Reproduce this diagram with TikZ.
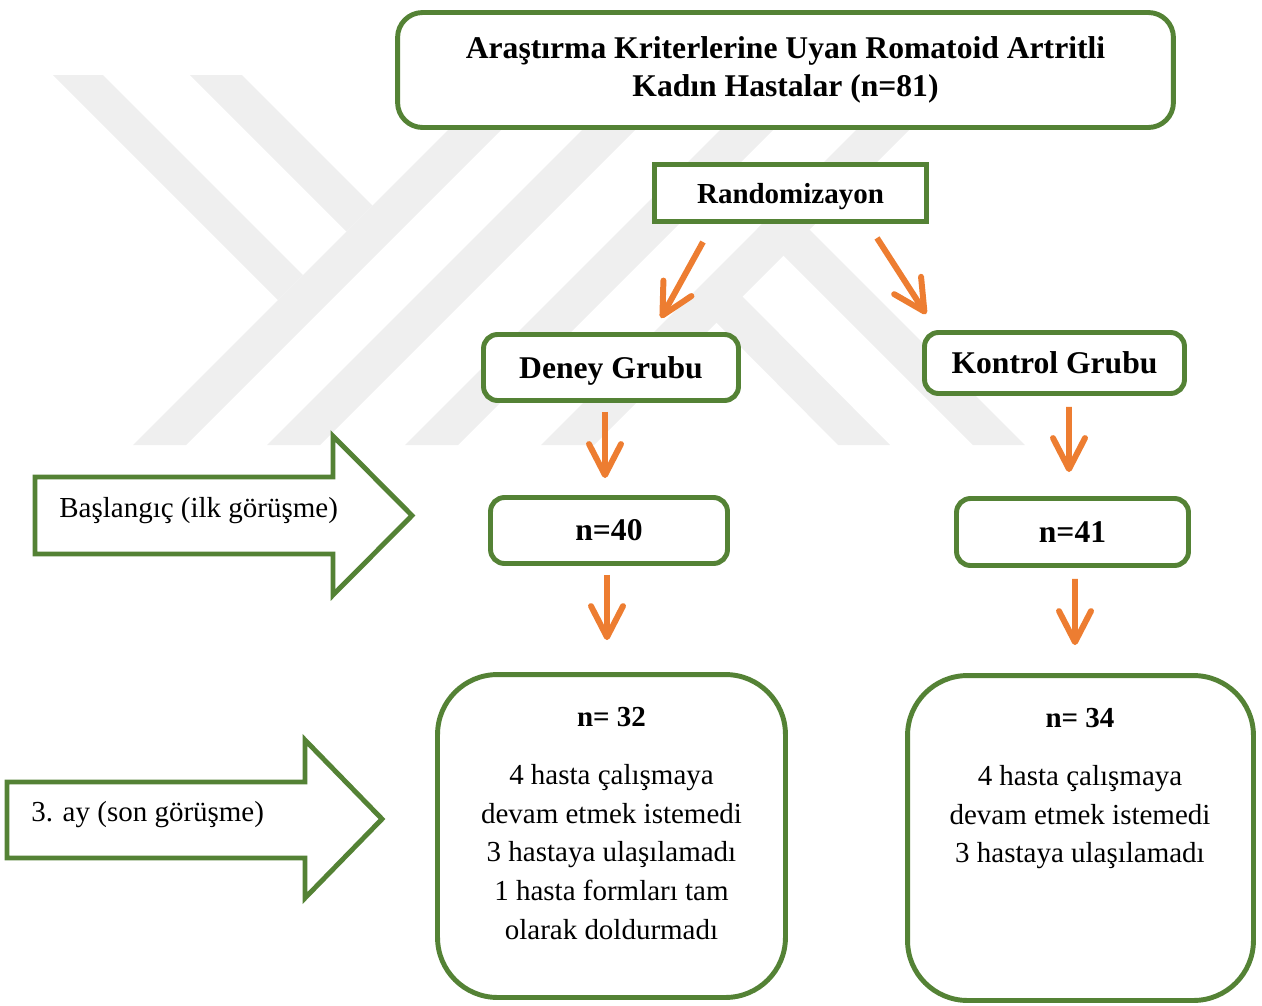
\documentclass[tikz,border=0pt]{standalone}
\usepackage{fontspec}
\setmainfont{Liberation Serif}
\usetikzlibrary{arrows.meta}

\definecolor{yesil}{RGB}{84,130,53}
\definecolor{turuncu}{RGB}{237,125,49}
\definecolor{filigran}{RGB}{239,239,239}

\newcommand{\baslikfont}{\fontsize{18}{22}\selectfont\bfseries}
\newcommand{\ortafont}{\fontsize{16.5}{20}\selectfont\bfseries}
\newcommand{\metinfont}{\fontsize{16.5}{22}\selectfont}

\begin{document}
\begin{tikzpicture}[x=0.02cm, y=-0.02cm,
	kutu/.style={draw=yesil, line width=2.8pt, fill=white, align=center, inner sep=0pt},
	blok/.style={draw=yesil, line width=2.8pt, fill=white},
	ok/.style={draw=turuncu, line width=3.4pt,
		-{Straight Barb[length=0.62cm, width=0.64cm, line cap=round, line join=round]}},
	yazi/.style={align=center, inner sep=0pt, font=\metinfont}]

	\useasboundingbox (0,0) rectangle (1262,1005);

	% watermark
	\begin{scope}
		\clip (0,75) rectangle (1262,445);
		\foreach \a in {133,267,405,541}
			\fill [filigran] (\a,445) -- (\a+53,445) -- (\a+423,75) -- (\a+370,75) -- cycle;
		\fill [filigran] (53,75) -- (103,75) -- (303,275) -- (278,300) -- cycle;
		\fill [filigran] (190,75) -- (242,75) -- (372.5,205.5) -- (346.5,231.5) -- cycle;
		\fill [filigran] (716,322) -- (742,296) -- (890,445) -- (838,445) -- cycle;
		\fill [filigran] (757,229) -- (783,203) -- (1025,445) -- (973,445) -- cycle;
	\end{scope}

	\node [kutu, rounded corners=0.5cm, minimum width=15.52cm, minimum height=2.3cm, font=\baslikfont] (baslik) at (785.5,70)
		{Araştırma Kriterlerine Uyan Romatoid Artritli\\Kadın Hastalar (n=81)};
	\node [kutu, text depth=0pt, minimum width=5.44cm, minimum height=1.14cm, font=\ortafont] (rand) at (790.5,193) {Randomizayon};

	\node [kutu, text depth=0pt, rounded corners=0.28cm, minimum width=5.1cm, minimum height=1.32cm, font=\baslikfont] (deney) at (611,367.5) {Deney Grubu};
	\node [kutu, rounded corners=0.28cm, minimum width=5.2cm, minimum height=1.22cm, font=\baslikfont] (kontrol) at (1054.5,363) {Kontrol Grubu};

	\node [kutu, rounded corners=0.28cm, minimum width=4.74cm, minimum height=1.32cm, font=\baslikfont] (deneyn) at (609,530.5) {n=40};
	\node [kutu, rounded corners=0.28cm, minimum width=4.64cm, minimum height=1.34cm, font=\baslikfont] (kontroln) at (1072.5,532) {n=41};

	\node [kutu, rounded corners=1.2cm, minimum width=6.96cm, minimum height=6.46cm] (deneyson) at (611.5,836) {};
	\node [kutu, rounded corners=1.2cm, minimum width=6.92cm, minimum height=6.5cm] (kontrolson) at (1080.5,838) {};
	\node [yazi, anchor=north] (deneysonyazi) at (611.5,707)
		{\textbf{n= 32}\\[11pt]4 hasta çalışmaya\\devam etmek istemedi\\3 hastaya ulaşılamadı\\1 hasta formları tam\\olarak doldurmadı};
	\node [yazi, anchor=north] (kontrolsonyazi) at (1080,708)
		{\textbf{n= 34}\\[11pt]4 hasta çalışmaya\\devam etmek istemedi\\3 hastaya ulaşılamadı};

	% time arrows on the left
	\draw [blok] (35,477) -- (333,477) -- (333,436) -- (412,515.5) -- (333,595) -- (333,554) -- (35,554) -- cycle;
	\node [anchor=base west, inner sep=0pt, font=\metinfont] (ilk) at (59,517) {Başlangıç (ilk görüşme)};
	\draw [blok] (7,782) -- (305,782) -- (305,740) -- (382,819) -- (305,898) -- (305,858) -- (7,858) -- cycle;
	\node [anchor=base west, inner sep=0pt, font=\metinfont] (son) at (31,821) {3. ay (son görüşme)};

	\draw [ok] ([shift={(-87.5,18)}]rand.south) -- ([shift={(50,-14)}]deney.north);
	\draw [ok] ([shift={(86.5,14)}]rand.south) -- ([shift={(-128.5,-16)}]kontrol.north);
	\draw [ok] ([shift={(-6,9)}]deney.south) -- ([shift={(-4,-17)}]deneyn.north);
	\draw [ok] ([shift={(14.5,11)}]kontrol.south) -- ([shift={(-3.5,-24)}]kontroln.north);
	\draw [ok] ([shift={(-2,9)}]deneyn.south) -- ([shift={(-4.5,-32)}]deneyson.north);
	\draw [ok] ([shift={(2.5,11)}]kontroln.south) -- ([shift={(-5.5,-28)}]kontrolson.north);
\end{tikzpicture}
\end{document}
